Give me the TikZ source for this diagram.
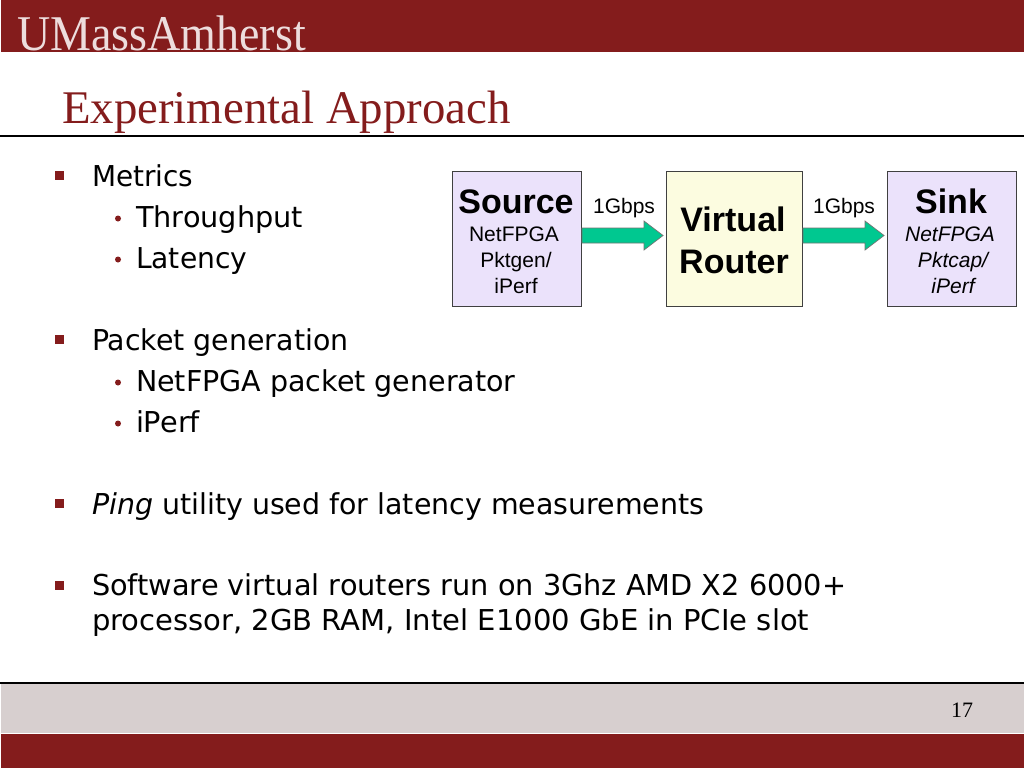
\documentclass[tikz,border=0pt]{standalone}
\usepackage{fontspec}
\setmainfont{DejaVu Sans}
\newfontfamily\serifface{Liberation Serif}
\newfontfamily\arialface{Liberation Sans}
\usetikzlibrary{calc}
\definecolor{umred}{HTML}{841C1C}
\definecolor{umgrey}{HTML}{D7CFCF}
\definecolor{boxlilac}{HTML}{EBE2FB}
\definecolor{boxcream}{HTML}{FCFCE0}
\definecolor{arrowgreen}{HTML}{00C890}
\tikzset{
  x=1pt,y=-1pt,
  body/.style={anchor=base west,inner sep=0pt,outer sep=0pt,font=\fontsize{28.75}{28.75}\selectfont,text=black},
  sq/.style={fill=umred,draw=none,minimum width=9pt,minimum height=9pt,inner sep=0pt},
  dotb/.style={circle,fill=umred,draw=none,minimum size=6pt,inner sep=0pt},
  diagbox/.style={draw=black!75,line width=0.9pt,anchor=north west,minimum width=129pt,minimum height=135pt,inner sep=0pt},
  txt/.style={inner sep=0pt,outer sep=0pt,align=center,text=black},
  big/.style={txt,font=\arialface\bfseries\fontsize{34}{34}\selectfont},
  small/.style={txt,font=\arialface\fontsize{21}{21}\selectfont},
  fat/.style={draw=black!55,line width=0.7pt,fill=arrowgreen,line join=miter}
}
\newcommand{\fatarrow}[3]{% from, to, y
  \draw[fat] let \p1=(#1.east), \p2=(#2.west) in
    (\x1,#3-7.5) -- (\x2-22,#3-7.5) -- (\x2-22,#3-14.5) -- (\x2-3,#3) -- (\x2-22,#3+14.5) -- (\x2-22,#3+7.5) -- (\x1,#3+7.5) -- cycle;
}
\newcommand{\sx}[2]{\scalebox{#1}[1]{#2}}
\begin{document}
\begin{tikzpicture}
\useasboundingbox (0,0) rectangle (1024,768);
\fill[white] (0,0) rectangle (1024,768);
% header
\fill[umred] (1,0) rectangle (1024,52);
\begin{scope}
\clip (0,0) rectangle (1024,52);
\node[anchor=base west,inner sep=0pt,text=white!85!umred,font=\serifface\fontsize{50}{50}\selectfont] (logo) at (17,51) {\sx{0.92}{UMassAmherst}};
\end{scope}
\node[anchor=base west,inner sep=0pt,text=umred,font=\serifface\fontsize{46.8}{47}\selectfont] (title) at (62,123) {Experimental Approach};
\draw[black,line width=1.2pt] (0,136) -- (1024,136);
% footer
\fill[umgrey] (1,684) rectangle (1024,733);
\draw[black,line width=1.2pt] (0,683) -- (1024,683);
\fill[umred] (1,733.5) rectangle (1024,768);
\node[anchor=base,inner sep=0pt,font=\serifface\fontsize{22}{22}\selectfont] (pagenum) at (962,717) {17};
% bullets and text
\node[sq] (b1) at (59.5,175.5) {};
\node[body] (t1) at (92,186.5) {\sx{0.97}{Metrics}};
\node[dotb] (d1) at (118,218.5) {};
\node[body] (t2) at (136,227.5) {Throughput};
\node[dotb] (d2) at (118,259.5) {};
\node[body] (t3) at (136,268.5) {\sx{0.98}{Latency}};
\node[sq] (b2) at (59.5,339.5) {};
\node[body] (t4) at (92,350.5) {\sx{0.988}{Packet generation}};
\node[dotb] (d3) at (118,382.5) {};
\node[body] (t5) at (136,391.5) {\sx{0.992}{NetFPGA packet generator}};
\node[dotb] (d4) at (118,423.5) {};
\node[body] (t6) at (136,432.5) {iPerf};
\node[sq] (b3) at (59.5,503.5) {};
\node[body] (t7) at (92,514.5) {\sx{0.989}{\textit{Ping} utility used for latency measurements}};
\node[sq] (b4) at (59.5,585.5) {};
\node[body] (t8) at (92,595.5) {Software virtual routers run on 3Ghz AMD X2 6000+};
\node[body] (t9) at (92,630.5) {\sx{1.01}{processor, 2GB RAM, Intel E1000 GbE in PCIe slot}};
% diagram boxes
\node[diagbox,fill=boxlilac] (src) at (452,171) {};
\node[diagbox,fill=boxcream,minimum width=136pt] (rtr) at (666,171) {};
\node[diagbox,fill=boxlilac] (snk) at (887,171) {};
\node[big,anchor=base] (srcT) at (516,213) {Source};
\node[small,anchor=base] (srcA) at (514,241) {NetFPGA};
\node[small,anchor=base] (srcB) at (516,267) {Pktgen/};
\node[small,anchor=base] (srcC) at (516,293) {iPerf};
\node[big,anchor=base] (rtrA) at (733,231) {Virtual};
\node[big,anchor=base] (rtrB) at (734,273) {Router};
\node[big,anchor=base] (snkT) at (951,213) {Sink};
\node[small,anchor=base] (snkA) at (950,241) {\itshape NetFPGA};
\node[small,anchor=base] (snkB) at (953,267) {\itshape Pktcap/};
\node[small,anchor=base] (snkC) at (953,293) {\itshape iPerf};
\node[small,anchor=base] (r1) at (624,213) {1Gbps};
\node[small,anchor=base] (r2) at (844,213) {1Gbps};
\fatarrow{src}{rtr}{235.5}
\fatarrow{rtr}{snk}{235.5}
\end{tikzpicture}
\end{document}
